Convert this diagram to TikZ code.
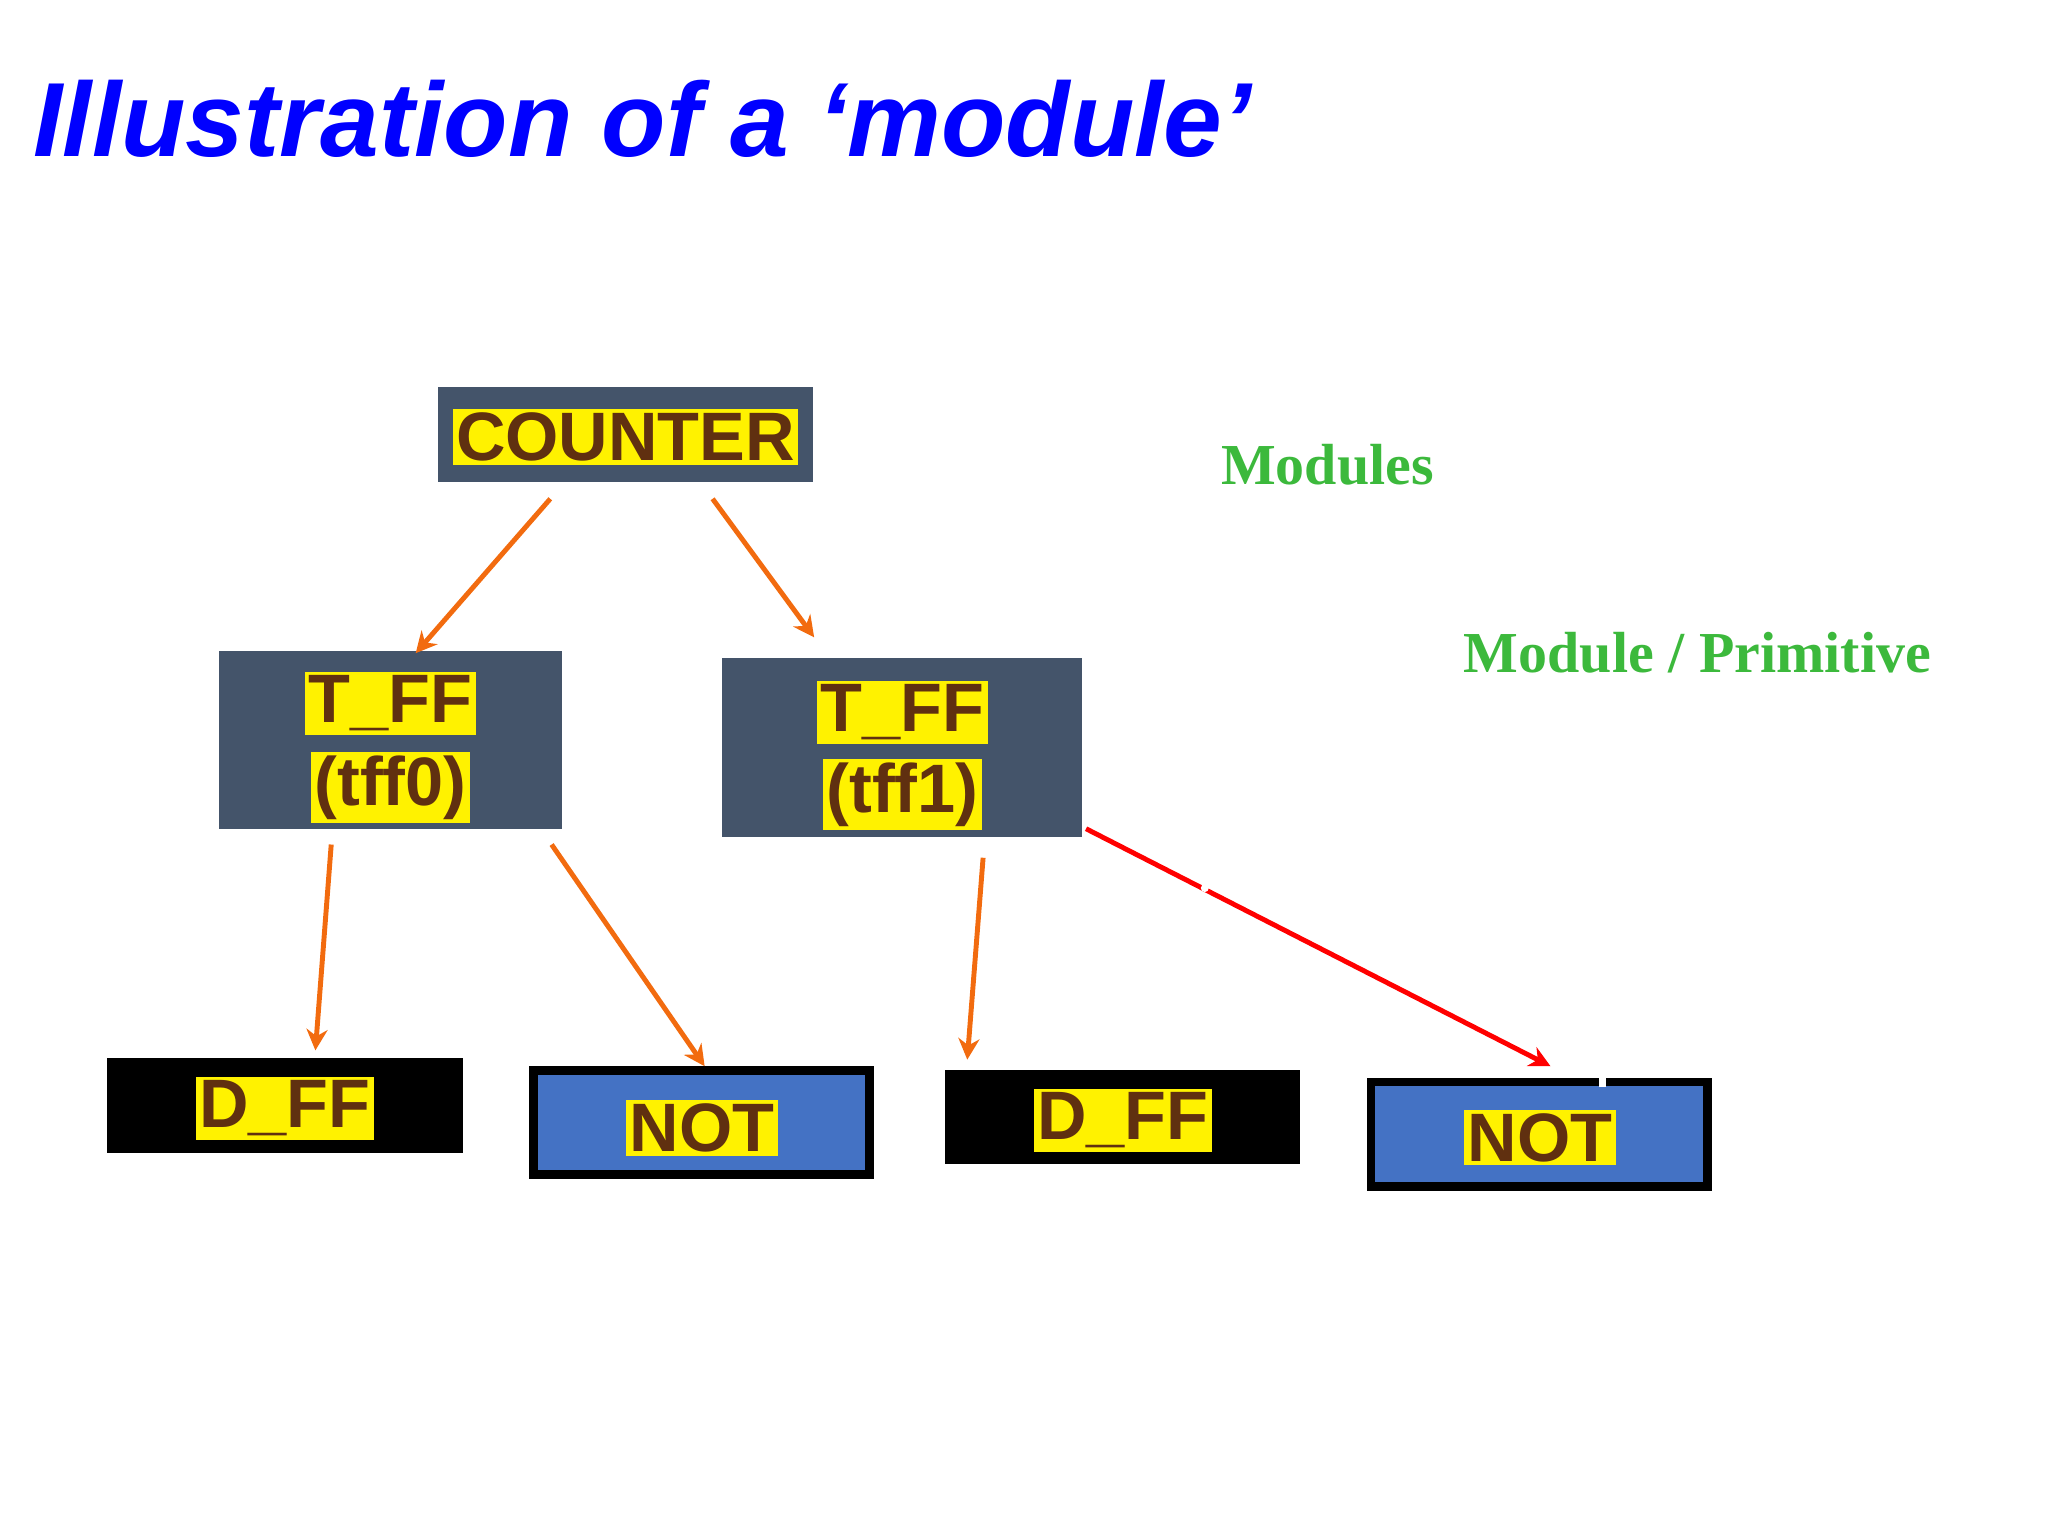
\documentclass[tikz,border=0pt]{standalone}
\usepackage{fontspec}
\setmainfont{Liberation Serif}
\setsansfont{Liberation Sans}
\usepackage{tikz}
\usetikzlibrary{arrows.meta}
\definecolor{slate}{HTML}{44546A}
\definecolor{nblue}{HTML}{4472C4}
\definecolor{brownt}{HTML}{603010}
\definecolor{arrorange}{HTML}{F26B0F}
\definecolor{gtext}{HTML}{3CB93C}
\tikzset{
  hl/.style={fill=yellow, inner sep=1pt, text=brownt, font=\sffamily\bfseries\fontsize{19.5}{21}\selectfont},
  arr/.style={-{Stealth[length=6pt,width=6pt]}, arrorange, line width=1.4pt},
  gl/.style={text=gtext, font=\bfseries\fontsize{16.5}{18}\selectfont, anchor=west}
}
\begin{document}
\begin{tikzpicture}[x=0.0132cm, y=-0.0132cm]
  \useasboundingbox (0,0) rectangle (1552,1164);
  % title
  \node[anchor=west, text=blue, font=\sffamily\bfseries\itshape\fontsize{30}{33}\selectfont] (title) at (16,90) {Illustration of a ‘module’};
  % boxes
  \fill[slate] (332,293) rectangle (616,365);
  \node[hl] (counter) at (474,331) {COUNTER};
  \fill[slate] (166,493) rectangle (426,628);
  \node[hl] (tff0a) at (296,533) {T\_FF};
  \node[hl] (tff0b) at (296,597) {(tff0)};
  \fill[slate] (547,499) rectangle (820,634);
  \node[hl] (tff1a) at (684,540) {T\_FF};
  \node[hl] (tff1b) at (684,602) {(tff1)};
  \fill[black] (81,802) rectangle (351,874);
  \node[hl] (dff0) at (216,840) {D\_FF};
  \draw[fill=nblue, line width=2.5pt] (404,811) rectangle (659,890);
  \node[hl] (not0) at (532,855) {NOT};
  \fill[black] (716,811) rectangle (985,882);
  \node[hl] (dff1) at (851,849) {D\_FF};
  \draw[fill=nblue, line width=2.5pt] (1039,820) rectangle (1294,899);
  \fill[white] (1212,815) rectangle (1217,824);
  \node[hl] (not1) at (1167,862) {NOT};
  % labels
  \node[gl] (mods) at (916,352) {Modules};
  \node[gl] (prim) at (1100,495) {Module / Primitive};
  % connectors
  \coordinate (c1) at (417,378); \coordinate (t0) at (315,495);
  \coordinate (c2) at (540,378); \coordinate (t1) at (617,483);
  \coordinate (f0a) at (251,640); \coordinate (d0) at (239,796);
  \coordinate (f0b) at (418,640); \coordinate (n0) at (534,808);
  \coordinate (f1a) at (745,650); \coordinate (d1) at (733,803);
  \coordinate (f1b) at (823,628); \coordinate (n1) at (1175,808);
  \draw[arr] (c1) -- (t0);
  \draw[arr] (c2) -- (t1);
  \draw[arr] (f0a) -- (d0);
  \draw[arr] (f0b) -- (n0);
  \draw[arr] (f1a) -- (d1);
  \draw[arr, red] (f1b) -- (n1);
  \fill[white] (913,673) circle (3);
\end{tikzpicture}
\end{document}
